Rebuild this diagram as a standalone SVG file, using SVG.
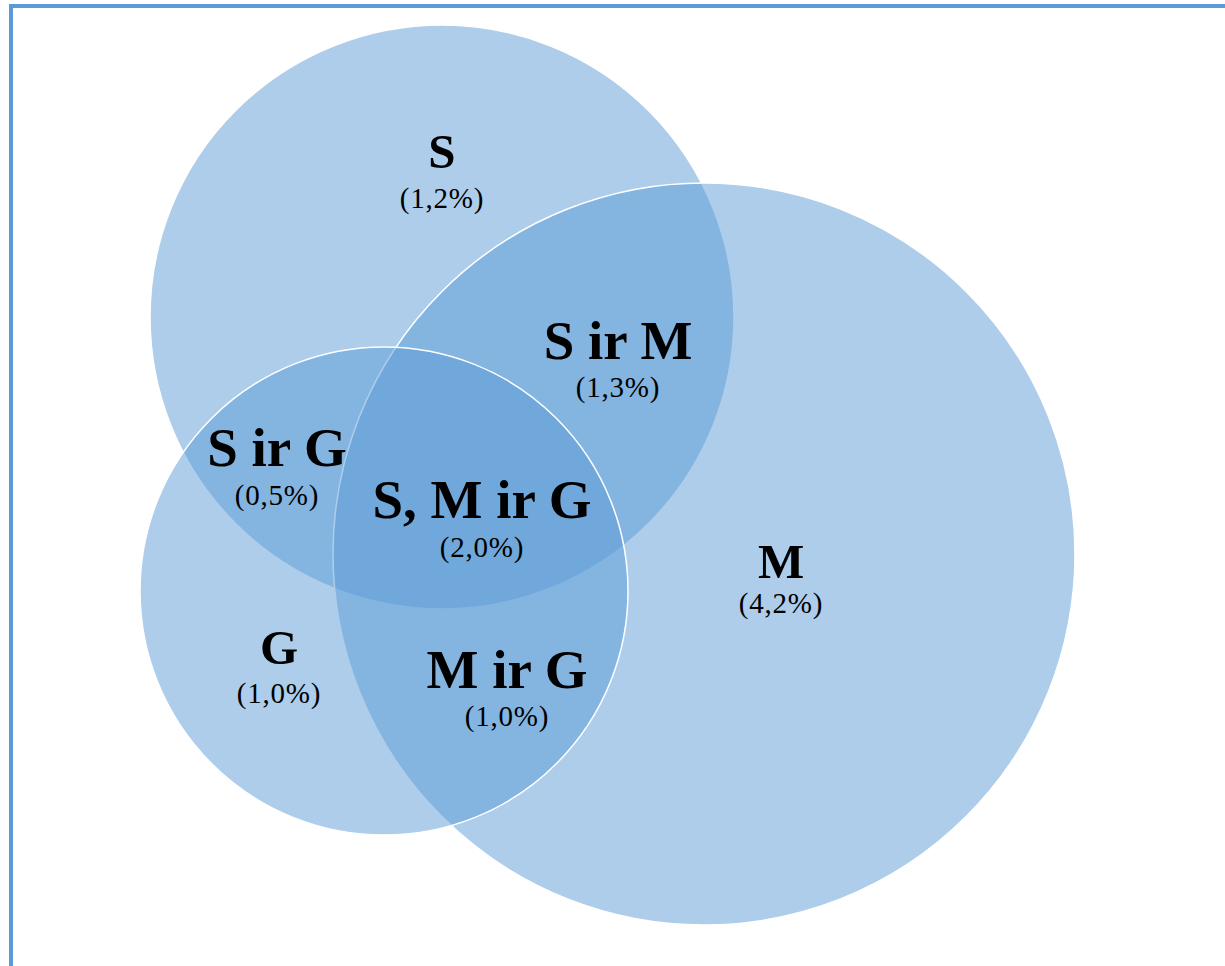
<svg xmlns="http://www.w3.org/2000/svg" width="1225" height="966" viewBox="0 0 1225 966">
<style>
.c{fill:#5b9bd5;fill-opacity:0.5;stroke:#ffffff;stroke-width:1.5}
.big{font-family:"Liberation Serif","Times New Roman",serif;font-weight:bold;font-size:55px;fill:#000;text-anchor:middle}
.one{font-family:"Liberation Serif","Times New Roman",serif;font-weight:bold;font-size:49px;fill:#000;text-anchor:middle}
.pct{font-family:"Liberation Serif","Times New Roman",serif;font-size:29px;fill:#000;text-anchor:middle;letter-spacing:0.8px}
</style>
<rect x="0" y="0" width="1225" height="966" fill="#ffffff"/>
<g id="frame">
<line x1="9" y1="6" x2="1225" y2="6" stroke="#5b9bd5" stroke-width="4"/>
<line x1="11" y1="4" x2="11" y2="966" stroke="#5b9bd5" stroke-width="4"/>
</g>
<g id="circle-S"><circle class="c" cx="442" cy="317" r="292"/></g>
<g id="circle-M"><circle class="c" cx="704" cy="554" r="371"/></g>
<g id="circle-G"><circle class="c" cx="384" cy="591" r="244"/></g>
<g id="connectors"></g>
<g id="label-S"><text class="one" x="442" y="168">S</text><text class="pct" x="442" y="208">(1,2%)</text></g>
<g id="label-SM"><text class="big" x="618" y="359">S ir M</text><text class="pct" x="618" y="397">(1,3%)</text></g>
<g id="label-SG"><text class="big" x="277" y="466">S ir G</text><text class="pct" x="277" y="505">(0,5%)</text></g>
<g id="label-SMG"><text class="big" x="482" y="518">S, M ir G</text><text class="pct" x="482" y="557">(2,0%)</text></g>
<g id="label-M"><text class="one" x="781" y="578">M</text><text class="pct" x="781" y="613">(4,2%)</text></g>
<g id="label-G"><text class="one" x="279" y="664">G</text><text class="pct" x="279" y="703">(1,0%)</text></g>
<g id="label-MG"><text class="big" x="507" y="688">M ir G</text><text class="pct" x="507" y="726">(1,0%)</text></g>
</svg>
